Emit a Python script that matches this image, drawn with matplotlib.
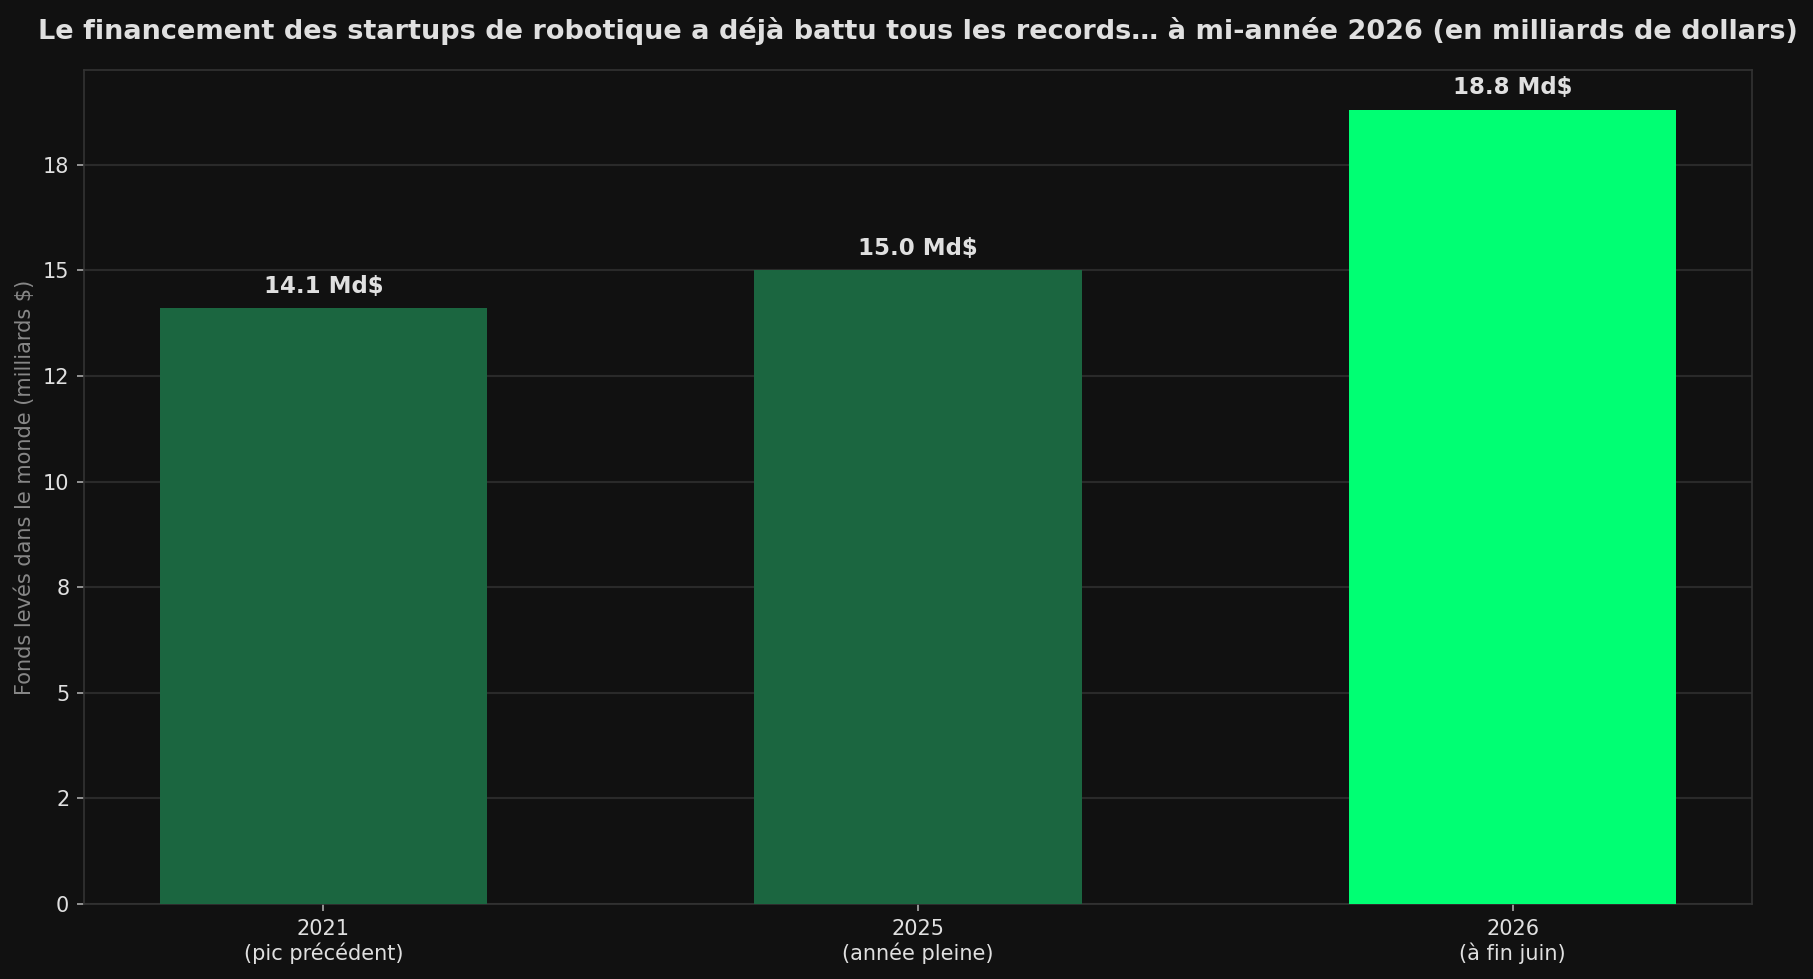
import matplotlib.pyplot as plt
from matplotlib.ticker import MultipleLocator, FormatStrFormatter

# Données
categories = ["2021\n(pic précédent)", "2025\n(année pleine)", "2026\n(à fin juin)"]
values = [14.1, 15.0, 18.8]
labels = ["14.1 Md$", "15.0 Md$", "18.8 Md$"]
colors = ["#1b6640", "#1b6640", "#00ff73"]

bg = "#111111"
text_col = "#e0e0e0"

fig = plt.figure(figsize=(1813 / 150, 979 / 150), dpi=150, facecolor=bg)
ax = fig.add_axes([0.0463, 0.0766, 0.9201, 0.8519])
ax.set_facecolor(bg)

x = list(range(len(values)))
ax.bar(x, values, width=0.55, color=colors, zorder=3)

for xi, v, lab in zip(x, values, labels):
    ax.annotate(lab, (xi, v), xytext=(0, 5), textcoords="offset points",
                ha="center", va="bottom", fontsize=11, fontweight="bold",
                color=text_col)

ax.set_xticks(x)
ax.set_xticklabels(categories)
ax.set_ylim(0, max(values) * 1.05)
ax.yaxis.set_major_locator(MultipleLocator(2.5))
ax.yaxis.set_major_formatter(FormatStrFormatter("%.0f"))

ax.grid(axis="y", color="#2a2a2a", linewidth=1, zorder=0)
ax.set_axisbelow(True)
for s in ax.spines.values():
    s.set_color("#333333")
ax.tick_params(colors="#aaaaaa", labelcolor=text_col, labelsize=10)

ax.set_ylabel("Fonds levés dans le monde (milliards $)", color="#888888", fontsize=10)
ax.set_title("Le financement des startups de robotique a déjà battu tous les records… "
             "à mi-année 2026 (en milliards de dollars)",
             color=text_col, fontsize=13, fontweight="bold", pad=15)

fig.savefig("out.png", dpi=150, facecolor=bg)
